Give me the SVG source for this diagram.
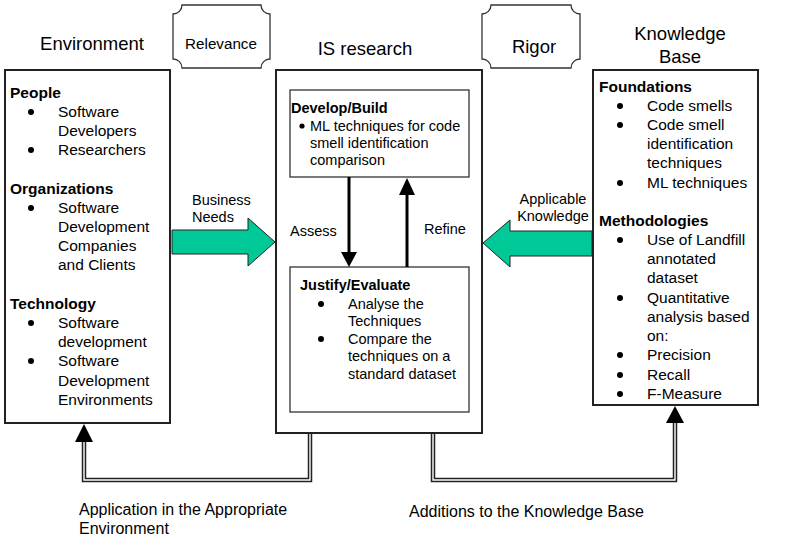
<svg xmlns="http://www.w3.org/2000/svg" width="789" height="547" viewBox="0 0 789 547">
<style>
text{font-family:"Liberation Sans",Arial,sans-serif;fill:#000}
.t{font-size:15.5px}
.s{font-size:14.5px}
.b{font-weight:bold}
.title{font-size:18.5px}
.box{fill:#fff;stroke:#222;stroke-width:2}
.ibox{fill:#fff;stroke:#333;stroke-width:1.3}
.plaque{fill:#fff;stroke:#333;stroke-width:1.3}
.green{fill:#00C896;stroke:#222;stroke-width:1}
.dot{fill:#000}
.thick{stroke:#000;stroke-width:3;fill:none}
.dbl-o{stroke:#222;stroke-width:4.5;fill:none}
.dbl-i{stroke:#fff;stroke-width:1.4;fill:none}
.head{fill:#000}
</style>
<rect width="789" height="547" fill="#fff"/>

<g id="titles">
<text class="title" x="92" y="50" text-anchor="middle">Environment</text>
<text class="title" x="365" y="55" text-anchor="middle">IS research</text>
<text class="title" x="680" y="40" text-anchor="middle">Knowledge</text>
<text class="title" x="680" y="63" text-anchor="middle">Base</text>
</g>

<g id="relevance">
<path class="plaque" d="M182,5 H261 A9,9 0 0 0 270,14 V59 A9,9 0 0 0 261,68 H182 A9,9 0 0 0 173,59 V14 A9,9 0 0 0 182,5 Z"/>
<text x="221" y="48.5" text-anchor="middle" style="font-size:15.2px">Relevance</text>
</g>

<g id="rigor">
<path class="plaque" d="M491,5 H571 A9,9 0 0 0 580,14 V59 A9,9 0 0 0 571,68 H491 A9,9 0 0 0 482,59 V14 A9,9 0 0 0 491,5 Z"/>
<text x="534" y="53" text-anchor="middle" style="font-size:18.5px">Rigor</text>
</g>

<g id="environment">
<rect class="box" x="5" y="70" width="165" height="353"/>
<text class="t b" x="10" y="98">People</text>
<circle class="dot" cx="31" cy="112" r="3"/>
<text class="t" x="58" y="117">Software</text>
<text class="t" x="58" y="136">Developers</text>
<circle class="dot" cx="31" cy="150" r="3"/>
<text class="t" x="58" y="155">Researchers</text>
<text class="t b" x="10" y="194">Organizations</text>
<circle class="dot" cx="31" cy="208" r="3"/>
<text class="t" x="58" y="213">Software</text>
<text class="t" x="58" y="232">Development</text>
<text class="t" x="58" y="251">Companies</text>
<text class="t" x="58" y="270">and Clients</text>
<text class="t b" x="10" y="309">Technology</text>
<circle class="dot" cx="31" cy="323" r="3"/>
<text class="t" x="58" y="328">Software</text>
<text class="t" x="58" y="347">development</text>
<circle class="dot" cx="31" cy="361" r="3"/>
<text class="t" x="58" y="366">Software</text>
<text class="t" x="58" y="386">Development</text>
<text class="t" x="58" y="405">Environments</text>
</g>

<g id="is-research">
<rect class="box" x="276" y="70" width="206" height="363"/>
</g>

<g id="develop-build">
<rect class="ibox" x="290" y="90" width="179" height="87"/>
<text class="s b" x="291" y="113">Develop/Build</text>
<circle class="dot" cx="302" cy="126" r="2.6"/>
<text class="s" x="310" y="131">ML techniques for code</text>
<text class="s" x="310" y="148">smell identification</text>
<text class="s" x="310" y="165">comparison</text>
</g>

<g id="justify-evaluate">
<rect class="ibox" x="290" y="267" width="179" height="145"/>
<text class="s b" x="300" y="290">Justify/Evaluate</text>
<circle class="dot" cx="321" cy="304" r="3"/>
<text class="s" x="348" y="308.5">Analyse the</text>
<text class="s" x="348" y="326">Techniques</text>
<circle class="dot" cx="321" cy="339" r="3"/>
<text class="s" x="348" y="343.5">Compare the</text>
<text class="s" x="348" y="361">techniques on a</text>
<text class="s" x="348" y="378.5">standard dataset</text>
</g>

<g id="knowledge-base">
<rect class="box" x="593" y="70" width="165" height="335"/>
<text class="t b" x="599" y="92">Foundations</text>
<circle class="dot" cx="620" cy="106" r="3"/>
<text class="t" x="647" y="111">Code smells</text>
<circle class="dot" cx="620" cy="125" r="3"/>
<text class="t" x="647" y="130">Code smell</text>
<text class="t" x="647" y="149">identification</text>
<text class="t" x="647" y="168">techniques</text>
<circle class="dot" cx="620" cy="183" r="3"/>
<text class="t" x="647" y="188">ML techniques</text>
<text class="t b" x="599" y="226">Methodologies</text>
<circle class="dot" cx="620" cy="240" r="3"/>
<text class="t" x="647" y="245">Use of Landfill</text>
<text class="t" x="647" y="264">annotated</text>
<text class="t" x="647" y="283">dataset</text>
<circle class="dot" cx="620" cy="298" r="3"/>
<text class="t" x="647" y="303">Quantitative</text>
<text class="t" x="647" y="322">analysis based</text>
<text class="t" x="647" y="341">on:</text>
<circle class="dot" cx="620" cy="355" r="3"/>
<text class="t" x="647" y="360">Precision</text>
<circle class="dot" cx="620" cy="375" r="3"/>
<text class="t" x="647" y="380">Recall</text>
<circle class="dot" cx="620" cy="394" r="3"/>
<text class="t" x="647" y="399">F-Measure</text>
</g>

<g id="connectors">
<polygon class="green" points="172,230 248,230 248,218 275,242 248,266 248,254 172,254"/>
<text class="s" x="192" y="204.5">Business</text>
<text class="s" x="192" y="221.5">Needs</text>

<polygon class="green" points="592,231 510,231 510,220 483,243 510,267 510,256 592,256"/>
<text class="s" x="553" y="203.5" text-anchor="middle">Applicable</text>
<text class="s" x="553" y="221" text-anchor="middle">Knowledge</text>

<line class="thick" x1="349" y1="177" x2="349" y2="253"/>
<polygon class="head" points="341,252 357,252 349,267"/>
<text class="s" x="290" y="236">Assess</text>

<line class="thick" x1="407" y1="267" x2="407" y2="193"/>
<polygon class="head" points="399,195 415,195 407,178"/>
<text class="s" x="424" y="233.5">Refine</text>

<path class="dbl-o" d="M310,433 V480 H84 V441"/>
<path class="dbl-i" d="M310,434 V480 H84 V441"/>
<polygon class="head" points="75,442 93,442 84,424"/>

<path class="dbl-o" d="M433,433 V480 H675 V422"/>
<path class="dbl-i" d="M433,434 V480 H675 V422"/>
<polygon class="head" points="666,423 684,423 675,406"/>

<text x="79" y="515" style="font-size:16px">Application in the Appropriate</text>
<text x="79" y="534" style="font-size:16px">Environment</text>
<text x="409" y="517" style="font-size:16px">Additions to the Knowledge Base</text>
</g>
</svg>
